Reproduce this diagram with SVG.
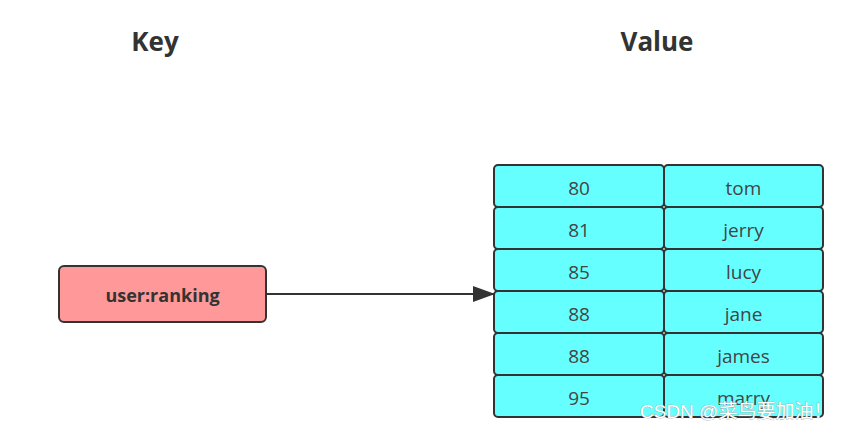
<svg xmlns="http://www.w3.org/2000/svg" width="841" height="430" viewBox="0 0 841 430">
<defs>
<style>
.title{font-family:"Open Sans","Liberation Sans",sans-serif;font-weight:bold;font-size:26px;fill:#333;text-anchor:middle}
.cell{fill:#66FFFF;stroke:#333;stroke-width:2}
.ct{font-family:"Open Sans","Liberation Sans",sans-serif;font-size:19px;fill:#444;text-anchor:middle;dominant-baseline:central}
.edge{stroke:#333;stroke-width:2;fill:none}
</style>
<marker id="arr" markerWidth="22" markerHeight="16" refX="21" refY="8" orient="auto" markerUnits="userSpaceOnUse" viewBox="0 0 22 16">
<path d="M0,0 L22,8 L0,16 Z" fill="#333"/>
</marker>
</defs>
<rect width="841" height="430" fill="#fff"/>
<text class="title" x="155" y="51">Key</text>
<text class="title" x="657" y="51">Value</text>
<g id="key">
<rect x="59" y="266" width="207" height="56" rx="5" fill="#FF9999" stroke="#333" stroke-width="2"/>
<text x="162.5" y="295" font-family="'Open Sans','Liberation Sans',sans-serif" font-weight="bold" font-size="18" fill="#333" text-anchor="middle" dominant-baseline="central">user:ranking</text>
</g>
<g id="connectors">
<path class="edge" d="M266,294 L494,294" marker-end="url(#arr)"/>
</g>
<g id="r1"><rect class="cell" x="494" y="165" width="170" height="42" rx="4"/><rect class="cell" x="664" y="165" width="159" height="42" rx="4"/><text class="ct" x="579" y="188">80</text><text class="ct" x="743.5" y="188">tom</text></g>
<g id="r2"><rect class="cell" x="494" y="207" width="170" height="42" rx="4"/><rect class="cell" x="664" y="207" width="159" height="42" rx="4"/><text class="ct" x="579" y="230">81</text><text class="ct" x="743.5" y="230">jerry</text></g>
<g id="r3"><rect class="cell" x="494" y="249" width="170" height="42" rx="4"/><rect class="cell" x="664" y="249" width="159" height="42" rx="4"/><text class="ct" x="579" y="272">85</text><text class="ct" x="743.5" y="272">lucy</text></g>
<g id="r4"><rect class="cell" x="494" y="291" width="170" height="42" rx="4"/><rect class="cell" x="664" y="291" width="159" height="42" rx="4"/><text class="ct" x="579" y="314">88</text><text class="ct" x="743.5" y="314">jane</text></g>
<g id="r5"><rect class="cell" x="494" y="333" width="170" height="42" rx="4"/><rect class="cell" x="664" y="333" width="159" height="42" rx="4"/><text class="ct" x="579" y="356">88</text><text class="ct" x="743.5" y="356">james</text></g>
<g id="r6"><rect class="cell" x="494" y="375" width="170" height="42" rx="4"/><rect class="cell" x="664" y="375" width="159" height="42" rx="4"/><text class="ct" x="579" y="398">95</text><text class="ct" x="743.5" y="398">marry</text></g>
<text x="640" y="418" font-family="'Liberation Sans','Noto Sans CJK SC',sans-serif" font-size="19" fill="#fff" stroke="#999" stroke-width="0.6" paint-order="stroke">CSDN @菜鸟要加油！</text>
</svg>
